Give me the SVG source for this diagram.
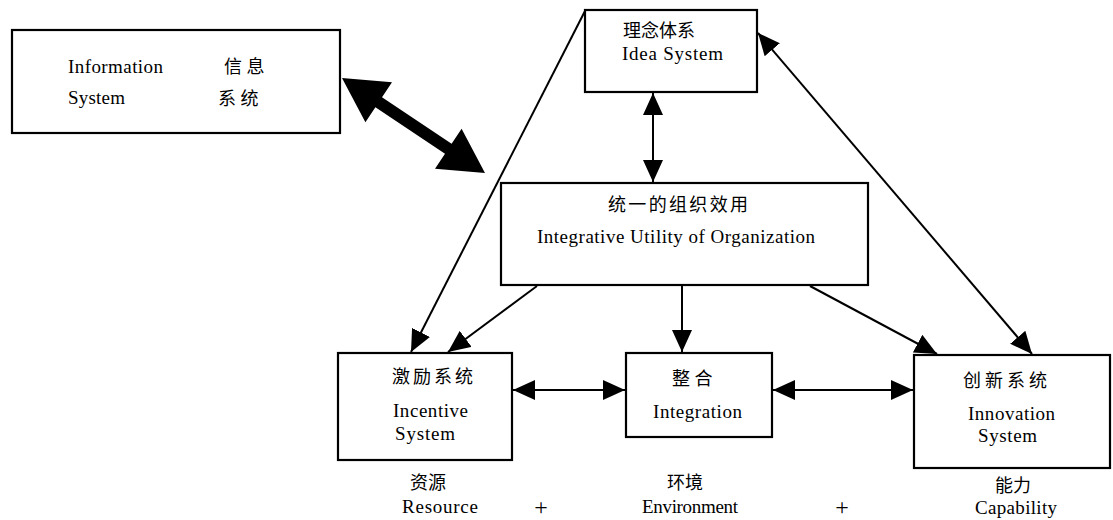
<svg xmlns="http://www.w3.org/2000/svg" width="1113" height="520" viewBox="0 0 1113 520">
<style>
.box{fill:#fff;stroke:#000;stroke-width:2.2}
.t{font-family:"Liberation Serif","Times New Roman",serif;font-size:19px;fill:#000}
.c{font-family:"Liberation Serif","Noto Sans CJK SC",serif;font-size:18px;fill:#000}
.p{font-family:"Liberation Serif",serif;font-size:24px;fill:#000;text-anchor:middle}
.ln{stroke:#000;stroke-width:2;fill:none}
</style>
<defs>
<marker id="ah" markerUnits="userSpaceOnUse" markerWidth="22" markerHeight="20" refX="22" refY="10" orient="auto-start-reverse" viewBox="0 0 22 20">
<path d="M0,0 L22,10 L0,20 z" fill="#000"/>
</marker>
</defs>
<g id="information-system">
<rect class="box" x="12" y="30" width="328" height="103"/>
<text class="t" x="68" y="73" textLength="95">Information</text>
<text class="c" x="224" y="73">信 息</text>
<text class="t" x="68" y="104" textLength="57">System</text>
<text class="c" x="218" y="105">系 统</text>
</g>
<g id="idea-system">
<rect class="box" x="585" y="10" width="172" height="82"/>
<text class="c" x="623" y="37">理念体系</text>
<text class="t" x="622" y="60" textLength="101">Idea System</text>
</g>
<g id="integrative-utility">
<rect class="box" x="501" y="183" width="367" height="102"/>
<text class="c" x="608" y="211" textLength="140">统一的组织效用</text>
<text class="t" x="537" y="243" textLength="278">Integrative Utility of Organization</text>
</g>
<g id="incentive-system">
<rect class="box" x="338" y="353" width="174" height="107"/>
<text class="c" x="392" y="383" textLength="81">激励系统</text>
<text class="t" x="393" y="417" textLength="75">Incentive</text>
<text class="t" x="395" y="440" textLength="60">System</text>
</g>
<g id="integration">
<rect class="box" x="626" y="353" width="146" height="84"/>
<text class="c" x="672" y="385">整 合</text>
<text class="t" x="653" y="418" textLength="89">Integration</text>
</g>
<g id="innovation-system">
<rect class="box" x="914" y="355" width="196" height="113"/>
<text class="c" x="963" y="387" textLength="84">创新系统</text>
<text class="t" x="968" y="420" textLength="87">Innovation</text>
<text class="t" x="978" y="442" textLength="59">System</text>
</g>
<g id="labels">
<text class="c" x="410" y="489">资源</text>
<text class="t" x="402" y="513" textLength="76">Resource</text>
<text class="p" x="541" y="515">+</text>
<text class="c" x="667" y="489">环境</text>
<text class="t" x="642" y="513" textLength="96">Environment</text>
<text class="p" x="842" y="515">+</text>
<text class="c" x="995" y="492">能力</text>
<text class="t" x="975" y="514" textLength="82">Capability</text>
</g>
<g id="connectors">
<polygon points="342,78 392,82.3 382,97.3 451.6,143.7 461.6,128.7 485,173 435,168.7 445,153.7 375.4,107.3 365.4,122.3" fill="#000"/>
<line class="ln" x1="585" y1="11" x2="411" y2="352" marker-end="url(#ah)"/>
<line class="ln" x1="537" y1="286" x2="448" y2="352" marker-end="url(#ah)"/>
<line class="ln" x1="682" y1="286" x2="682" y2="352" marker-end="url(#ah)"/>
<line class="ln" x1="810" y1="286" x2="937" y2="354" marker-end="url(#ah)"/>
<line class="ln" x1="758" y1="33" x2="1032" y2="354" marker-start="url(#ah)" marker-end="url(#ah)"/>
<line class="ln" x1="653" y1="93" x2="653" y2="182" marker-start="url(#ah)" marker-end="url(#ah)"/>
<line class="ln" x1="513" y1="390" x2="625" y2="390" marker-start="url(#ah)" marker-end="url(#ah)"/>
<line class="ln" x1="773" y1="390" x2="913" y2="390" marker-start="url(#ah)" marker-end="url(#ah)"/>
</g>
</svg>
